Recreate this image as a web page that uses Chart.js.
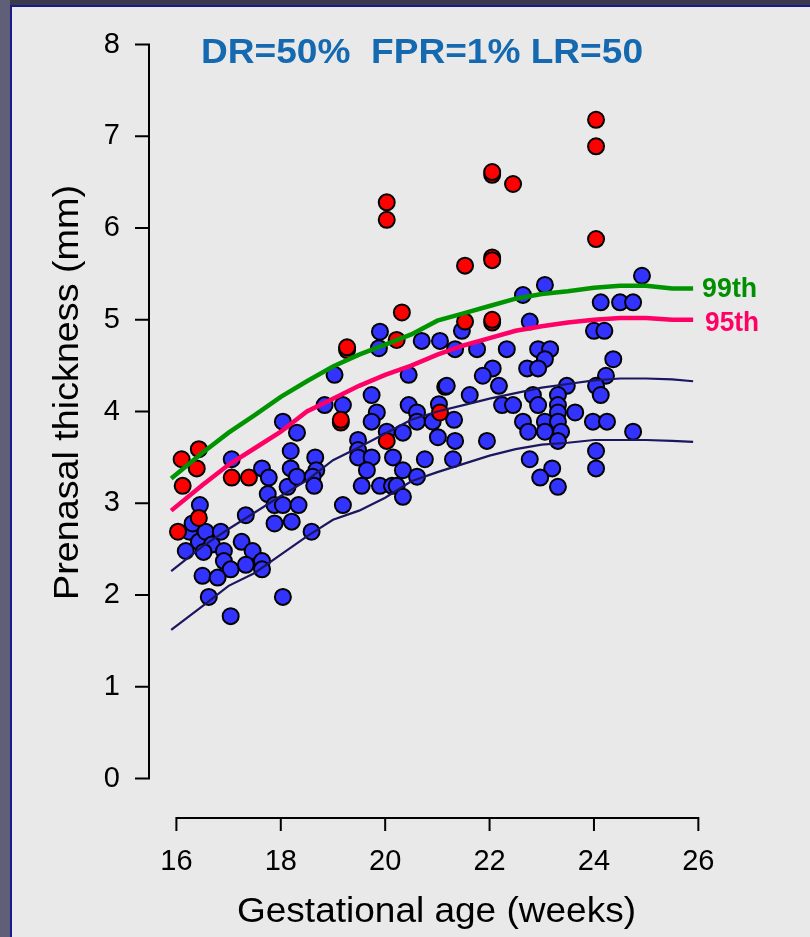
<!DOCTYPE html>
<html><head><meta charset="utf-8">
<script src="https://cdn.jsdelivr.net/npm/chart.js@4.4.1/dist/chart.umd.min.js"></script>
<style>html,body{margin:0;padding:0;background:#e9e9e9;overflow:hidden}canvas{display:block}</style>
</head><body>
<div style="width:810px;height:937px;position:relative"><canvas id="c" width="810" height="937"></canvas></div>
<script>
// ---- data ----
const xTickValues = [16, 18, 20, 22, 24, 26];
const yTickValues = [0, 1, 2, 3, 4, 5, 6, 7, 8];

const blueAge = [16.18,16.25,16.31,16.45,16.43,16.56,16.68,16.52,16.85,16.91,16.91,17.04,16.50,16.79,16.62,17.04,17.25,17.33,17.46,17.33,17.64,17.64,17.06,17.64,17.77,17.75,17.88,18.04,18.34,17.88,18.21,18.59,18.04,18.13,18.19,18.19,18.31,18.31,18.04,18.66,18.68,18.61,18.64,19.19,18.84,19.19,19.03,19.90,19.88,19.74,19.84,19.74,20.03,20.34,19.48,19.48,19.48,19.74,19.65,20.15,20.34,19.55,19.90,20.13,20.22,20.34,20.45,20.45,20.61,20.61,20.61,20.70,21.05,21.15,21.03,20.91,21.01,20.76,
 23.06,22.64,21.47,22.77,21.34,21.76,22.33,22.93,23.16,23.06,22.72,22.93,22.06,21.87,21.18,22.18,23.48,21.62,22.83,23.31,22.93,22.24,22.45,23.31,23.31,23.64,21.32,22.64,23.06,23.31,22.74,23.06,23.37,23.31,21.34,21.95,21.30,22.77,23.20,22.97,23.31,
 24.92,24.13,24.50,24.75,24.00,24.20,24.37,24.23,24.04,24.13,23.98,24.25,24.75,24.04,24.04];
const blueThick = [2.48,2.69,2.78,2.98,2.58,2.69,2.55,2.47,2.69,2.48,2.37,2.28,2.21,2.19,1.98,1.77,2.58,2.87,2.48,2.33,2.37,2.28,3.48,3.38,3.28,3.10,2.98,2.98,2.98,2.78,2.80,2.69,1.98,3.18,3.57,3.38,3.77,3.29,3.89,3.50,3.36,3.29,3.19,2.98,4.07,4.07,4.40,4.87,4.69,4.18,3.99,3.89,3.78,3.77,3.69,3.58,3.50,3.50,3.36,3.50,3.36,3.19,3.19,3.19,3.19,3.07,4.40,4.07,3.99,3.89,3.29,4.77,4.77,4.27,4.08,3.89,3.72,3.48,
 5.38,5.27,4.88,4.98,4.68,4.68,4.68,4.68,4.68,4.57,4.47,4.47,4.47,4.39,4.28,4.28,4.28,4.18,4.18,4.18,4.07,4.07,4.07,4.07,3.99,3.99,3.91,3.89,3.89,3.89,3.78,3.78,3.78,3.68,3.68,3.68,3.48,3.48,3.38,3.28,3.18,
 5.48,5.19,5.19,5.19,4.88,4.88,4.57,4.39,4.28,4.18,3.89,3.89,3.78,3.57,3.38];

const redAge = [16.03,16.10,16.12,16.43,16.39,16.43,17.06,17.39,19.27,19.27,19.15,19.15,20.03,20.03,20.03,20.22,20.32,21.05,21.53,21.53,22.05,22.05,22.45,22.05,22.05,22.05,22.05,24.04,24.04,24.04];
const redThick = [2.69,3.48,3.19,3.59,3.38,2.84,3.28,3.28,4.67,4.70,3.88,3.91,6.28,6.09,3.68,4.78,5.08,3.99,5.59,4.98,6.58,6.61,6.48,5.68,5.65,4.97,5.00,7.18,6.89,5.88];

const curveAge = [15.9,16.5,17.0,17.5,18.0,18.5,19.0,19.5,20.0,20.5,21.0,21.5,22.0,22.5,23.0,23.5,24.0,24.5,25.0,25.5,25.9];
const p99 = [3.27,3.55,3.77,3.96,4.16,4.33,4.49,4.62,4.73,4.84,4.99,5.07,5.15,5.23,5.28,5.31,5.35,5.37,5.37,5.34,5.34];
const p95 = [2.92,3.20,3.42,3.60,3.78,4.00,4.14,4.28,4.40,4.50,4.62,4.72,4.80,4.88,4.93,4.97,5.00,5.02,5.02,5.00,5.00];
const upperRef = [2.26,2.53,2.72,2.90,3.08,3.25,3.47,3.61,3.76,3.91,4.00,4.07,4.14,4.20,4.26,4.30,4.34,4.36,4.36,4.35,4.33];
const lowerRef = [1.62,1.88,2.10,2.24,2.44,2.64,2.82,2.92,3.06,3.24,3.34,3.43,3.52,3.59,3.64,3.66,3.69,3.69,3.69,3.68,3.67];

const titleText = 'DR=50%  FPR=1% LR=50';
const xTitle = 'Gestational age (weeks)';
const yTitle = 'Prenasal thickness (mm)';

// ---- build ----
const pts = (xs, ys) => xs.map((x, i) => ({x, y: ys[i]}));
const FONT = '"Liberation Sans", Arial, sans-serif';

function fitText(ctx, text, font, color, width) {
  ctx.font = font; ctx.fillStyle = color;
  const w = ctx.measureText(text).width;
  ctx.scale(width / w, 1);
  ctx.textAlign = 'left'; ctx.textBaseline = 'alphabetic';
  ctx.fillText(text, 0, 0);
}

const deco = {
  id: 'deco',
  beforeDraw(chart) {
    const c = chart.ctx, W = chart.width, H = chart.height;
    c.save();
    c.fillStyle = '#e9e9e9'; c.fillRect(0, 0, W, H);
    c.fillStyle = '#3a3a4a'; c.fillRect(0, 0, W, 5);
    c.fillStyle = '#5f5f78'; c.fillRect(0, 0, 10, H);
    c.fillStyle = '#1a1a8c'; c.fillRect(10, 5, 2, H); c.fillRect(10, 5, W, 2);
    c.restore();
  },
  afterDraw(chart) {
    const c = chart.ctx, xs = chart.scales.x, ys = chart.scales.y;
    const area = chart.chartArea;
    c.save();
    c.strokeStyle = '#000'; c.lineWidth = 2; c.lineCap = 'butt';
    // y axis
    const ax = area.left;
    c.beginPath();
    c.moveTo(ax, ys.getPixelForValue(yTickValues[0]));
    c.lineTo(ax, ys.getPixelForValue(yTickValues[yTickValues.length - 1]));
    yTickValues.forEach(v => { const p = ys.getPixelForValue(v); c.moveTo(ax + 1, p); c.lineTo(ax - 14, p); });
    c.stroke();
    // x axis
    const ay = area.bottom;
    c.beginPath();
    c.moveTo(xs.getPixelForValue(xTickValues[0]), ay);
    c.lineTo(xs.getPixelForValue(xTickValues[xTickValues.length - 1]), ay);
    xTickValues.forEach(v => { const p = xs.getPixelForValue(v); c.moveTo(p, ay - 1); c.lineTo(p, ay + 13); });
    c.stroke();
    c.restore();

    // chart title
    c.save(); c.translate(201, 62.5);
    fitText(c, titleText, 'bold 35px ' + FONT, '#1569b0', 442);
    c.restore();
    // axis titles
    c.save(); c.translate(237, 922);
    fitText(c, xTitle, '35px ' + FONT, '#000', 399);
    c.restore();
    c.save(); c.translate(78, 600); c.rotate(-Math.PI / 2);
    fitText(c, yTitle, '35px ' + FONT, '#000', 415);
    c.restore();
    // percentile labels
    const lx = xs.getPixelForValue(curveAge[curveAge.length - 1]);
    c.save(); c.translate(lx + 9, ys.getPixelForValue(p99[p99.length - 1]) + 8);
    fitText(c, '99th', 'bold 27px ' + FONT, '#008f00', 55);
    c.restore();
    c.save(); c.translate(lx + 12, ys.getPixelForValue(p95[p95.length - 1]) + 11);
    fitText(c, '95th', 'bold 27px ' + FONT, '#ff0066', 54);
    c.restore();
  }
};

const lineDs = (data, color, width) => ({
  type: 'line', data: pts(curveAge, data), borderColor: color, borderWidth: width,
  pointRadius: 0, fill: false, tension: 0, order: 0
});

const noPad = s => { s.paddingTop = 0; s.paddingBottom = 0; s.paddingLeft = 0; s.paddingRight = 0; };

new Chart(document.getElementById('c'), {
  type: 'scatter',
  data: {
    datasets: [
      lineDs(p99, '#009400', 4.5),
      lineDs(p95, '#ff0066', 4.5),
      lineDs(upperRef, '#1b1660', 2.2),
      lineDs(lowerRef, '#1b1660', 2.2),
      { data: pts(redAge, redThick), backgroundColor: '#ff0000', borderColor: '#000', borderWidth: 2, pointRadius: 8, order: 1 },
      { data: pts(blueAge, blueThick), backgroundColor: '#3333ff', borderColor: '#000', borderWidth: 2, pointRadius: 8, order: 2 }
    ]
  },
  options: {
    responsive: false, animation: false, devicePixelRatio: 1,
    layout: { padding: { left: 0, right: 96, top: 17, bottom: 0 } },
    plugins: { legend: { display: false }, tooltip: { enabled: false } },
    scales: {
      x: {
        type: 'linear', min: 15.475, max: 26.3,
        grid: { display: false, drawTicks: false }, border: { display: false },
        ticks: { color: '#000', font: { family: FONT, size: 29 }, padding: 27, autoSkip: false, maxRotation: 0 },
        afterBuildTicks: s => { s.ticks = xTickValues.map(v => ({ value: v })); },
        afterFit: s => { s.height = 119; noPad(s); }
      },
      y: {
        type: 'linear', min: -0.43, max: 8.3,
        grid: { display: false, drawTicks: false }, border: { display: false },
        ticks: { color: '#000', font: { family: FONT, size: 29 }, padding: 29, autoSkip: false },
        afterBuildTicks: s => { s.ticks = yTickValues.map(v => ({ value: v })); },
        afterFit: s => { s.width = 149; noPad(s); }
      }
    }
  },
  plugins: [deco]
});
</script>
</body></html>
